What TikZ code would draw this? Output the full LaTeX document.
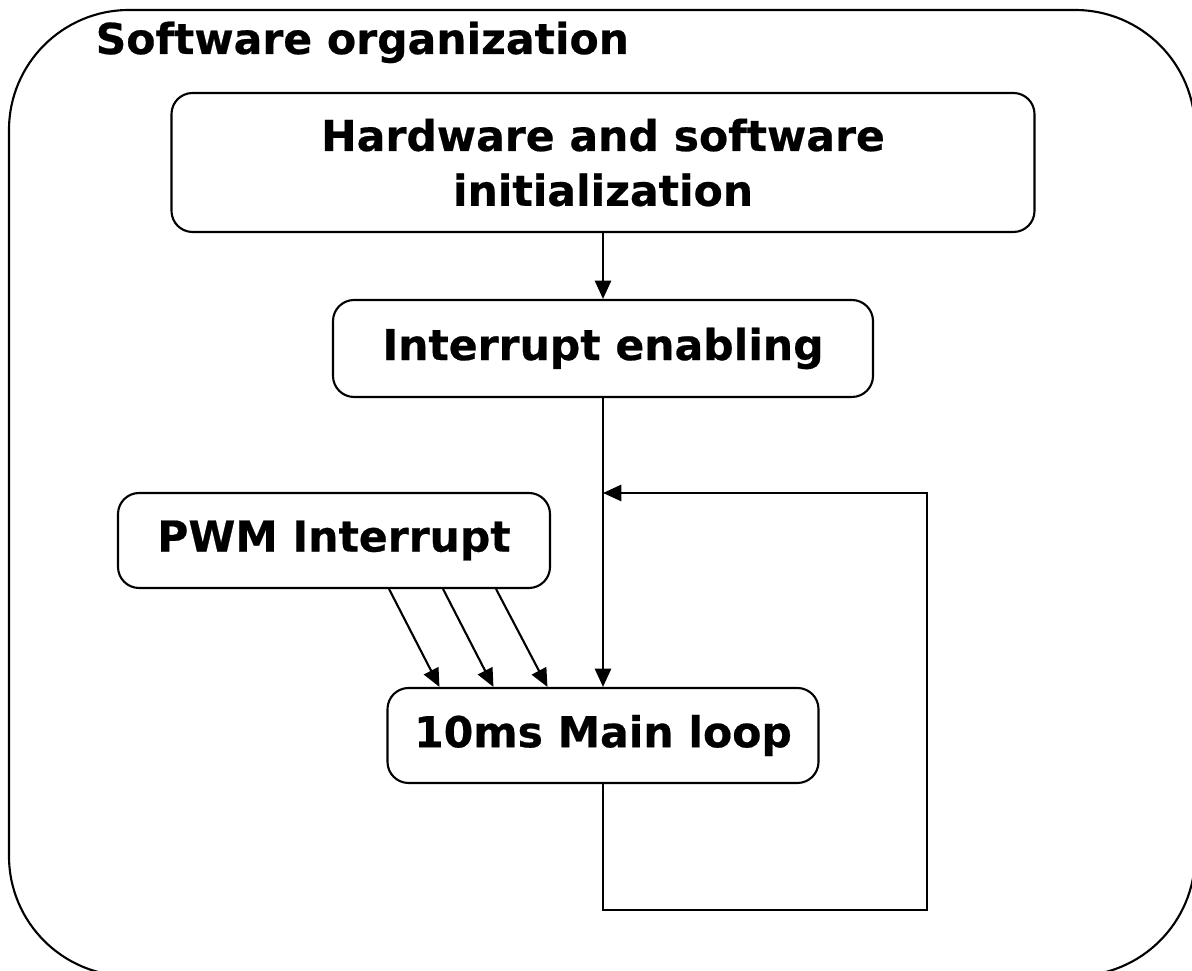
\documentclass[tikz,border=0pt]{standalone}
\usepackage{fontspec}
\setmainfont{DejaVu Sans}[BoldFeatures={FakeBold=0.5}]
\usepackage{tikz}
\usetikzlibrary{arrows.meta, positioning, calc}

\begin{document}
\begin{tikzpicture}[
  stepbox/.style={draw, line width=0.6pt, rounded corners=6pt, align=center, inner sep=0pt,
    font=\fontsize{12.1pt}{15.6pt}\selectfont\bfseries},
  arr/.style={line width=0.6pt, -{Triangle[length=5.2pt, width=4.6pt]}}
]
  \useasboundingbox (0,0) rectangle (11.92,-9.71);

  % Outer frame and title
  \draw[line width=0.6pt, rounded corners=1.2cm] (0.09,-0.10) rectangle (11.95,-9.76);
  \node[anchor=base west, inner sep=0pt, font=\fontsize{12.1pt}{14pt}\selectfont\bfseries] (title) at (0.95,-0.54) {Software organization};

  % Boxes
  \node[stepbox, minimum width=8.63cm, minimum height=1.39cm] (hwinit) at (6.03,-1.625) {Hardware and software\\initialization};
  \node[stepbox, minimum width=5.40cm, minimum height=0.97cm] (irqen) at (6.03,-3.485) {Interrupt enabling};
  \node[stepbox, minimum width=4.32cm, minimum height=0.95cm] (pwmirq) at (3.34,-5.405) {PWM Interrupt};
  \node[stepbox, minimum width=4.31cm, minimum height=0.95cm] (mainloop) at (6.03,-7.355) {10ms Main loop};

  % Connectors
  \coordinate (loopin) at (6.03,-4.93);
  \coordinate (loopcorner) at (9.27,-9.10);
  \draw[arr] (hwinit.south) -- (irqen.north);
  \draw[arr] (irqen.south) -- (mainloop.north);
  \draw[arr] (mainloop.south) |- (loopcorner) |- (loopin);
  \foreach \a/\b in {1.62/0.53, 1.08/1.07, 0.55/1.61}
    \draw[arr] ([xshift=-\a cm]pwmirq.south east) -- ([xshift=\b cm]mainloop.north west);
\end{tikzpicture}
\end{document}
